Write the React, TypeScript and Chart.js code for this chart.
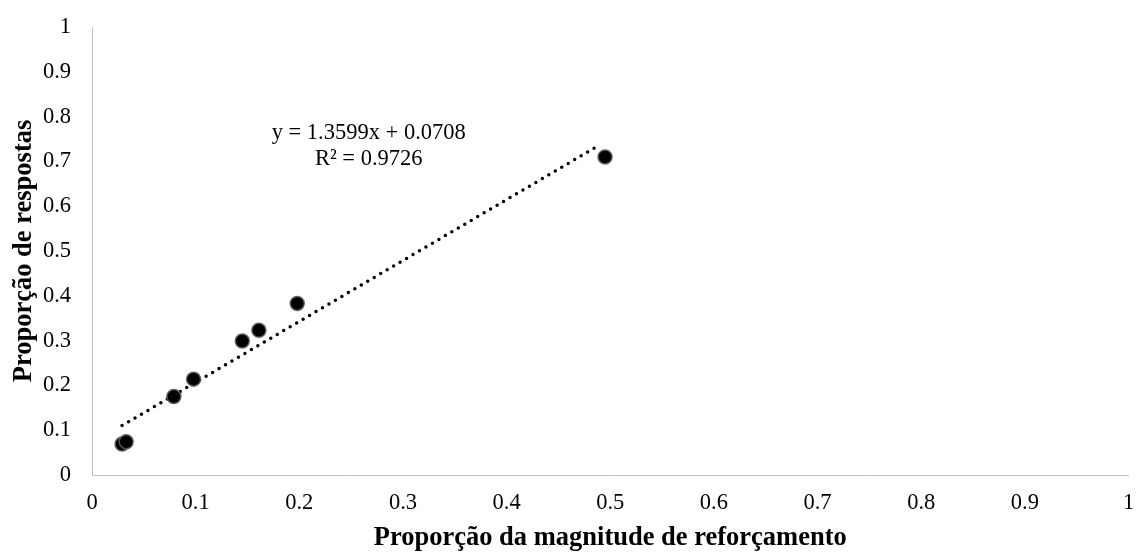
import { useEffect, useRef } from "react";
import { Chart, registerables } from "chart.js";

Chart.register(...registerables);

// ---- Data ----
const xValues = [0.029, 0.033, 0.079, 0.098, 0.145, 0.161, 0.198, 0.495];
const yValues = [0.069, 0.074, 0.175, 0.214, 0.299, 0.323, 0.383, 0.71];

// Linear trendline shown in the chart (y = slope * x + intercept)
const trendSlope = 1.3599;
const trendIntercept = 0.0708;
const trendXRange = [0.029, 0.49];

const equationLines = ["y = 1.3599x + 0.0708", "R² = 0.9726"];

const xTitle = "Proporção da magnitude de reforçamento";
const yTitle = "Proporção de respostas";

const axisMin = 0;
const axisMax = 1;
const axisStep = 0.1;

const SERIF = "'Liberation Serif', 'Times New Roman', Times, serif";

export default function App() {
  const canvasRef = useRef<HTMLCanvasElement | null>(null);

  useEffect(() => {
    const canvas = canvasRef.current;
    if (!canvas) return;

    const points = xValues.map((x, i) => ({ x, y: yValues[i] }));
    const trend = trendXRange.map((x) => ({ x, y: trendSlope * x + trendIntercept }));

    const equationPlugin = {
      id: "equationLabel",
      afterDatasetsDraw(chart: any) {
        const { ctx, scales } = chart;
        const cx = scales.x.getPixelForValue(0.267);
        const by = scales.y.getPixelForValue(0.751);
        ctx.save();
        ctx.fillStyle = "#000";
        ctx.font = `22.5px ${SERIF}`;
        ctx.textAlign = "center";
        ctx.textBaseline = "alphabetic";
        equationLines.forEach((line, i) => {
          ctx.fillText(line, cx, by + i * 26);
        });
        ctx.restore();
      },
    };

    const chart = new Chart(canvas, {
      type: "scatter",
      data: {
        datasets: [
          {
            label: "data",
            data: points,
            backgroundColor: "#000000",
            borderColor: "rgba(90,90,90,0.9)",
            pointRadius: 7,
            pointBorderWidth: 1.5,
            pointHoverRadius: 7,
          },
          {
            label: "trend",
            type: "line",
            data: trend,
            showLine: true,
            pointRadius: 0,
            borderColor: "#000000",
            borderWidth: 3.5,
            borderDash: [0, 7.5],
            borderCapStyle: "round",
            fill: false,
          } as any,
        ],
      },
      options: {
        responsive: false,
        animation: false,
        layout: { padding: { left: 0, top: 27, right: 2, bottom: 0 } },
        plugins: {
          legend: { display: false },
          tooltip: { enabled: false },
          title: { display: false },
        },
        scales: {
          x: {
            type: "linear",
            min: axisMin,
            max: axisMax,
            grid: { display: false, drawTicks: false },
            border: { display: true, color: "#bfbfbf", width: 1 },
            ticks: {
              stepSize: axisStep,
              padding: 15,
              color: "#000",
              font: { family: SERIF, size: 22.5 },
              maxRotation: 0,
              autoSkip: false,
              callback: (v: any) => String(Math.round(Number(v) * 10) / 10),
            },
            title: {
              display: true,
              text: xTitle,
              color: "#000",
              font: { family: SERIF, size: 26.5, weight: "bold" },
              padding: { top: 0, bottom: 0 },
            },
            afterFit: (scale: any) => {
              scale.height = 79;
              scale.paddingLeft = 0;
              scale.paddingRight = 0;
            },
          },
          y: {
            type: "linear",
            min: axisMin,
            max: axisMax,
            grid: { display: false, drawTicks: false },
            border: { display: true, color: "#bfbfbf", width: 1 },
            ticks: {
              stepSize: axisStep,
              padding: 21,
              color: "#000",
              font: { family: SERIF, size: 22.5 },
              autoSkip: false,
              callback: (v: any) => String(Math.round(Number(v) * 10) / 10),
            },
            title: {
              display: true,
              text: yTitle,
              color: "#000",
              font: { family: SERIF, size: 26.5, weight: "bold" },
              padding: { top: 8, bottom: 0 },
            },
            afterFit: (scale: any) => {
              scale.width = 92;
              scale.paddingTop = 0;
              scale.paddingBottom = 0;
            },
          },
        },
      },
      plugins: [equationPlugin],
    });

    return () => {
      chart.destroy();
    };
  }, []);

  return (
    <div
      style={{
        position: "absolute",
        left: 0,
        top: 0,
        width: 1137,
        height: 554,
        background: "#ffffff",
      }}
    >
      <canvas ref={canvasRef} width={1137} height={554} style={{ display: "block" }} />
    </div>
  );
}
